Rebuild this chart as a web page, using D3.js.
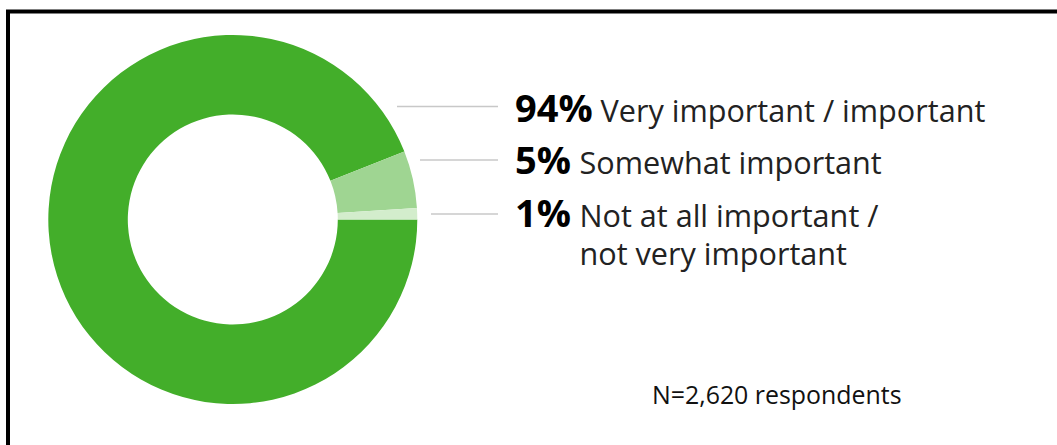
<!DOCTYPE html>
<html>
<head>
<meta charset="utf-8">
<script src="https://cdn.jsdelivr.net/npm/d3@7"></script>
<style>
  html, body { margin: 0; padding: 0; background: #fff; }
  svg { display: block; }
  text { font-family: "Open Sans", sans-serif; }
</style>
</head>
<body>
<svg id="chart" width="1057" height="445"></svg>
<script>
// Survey responses on importance
const categories = ["Very important / important", "Somewhat important", "Not at all important / not very important"];
const shares = [94, 5, 1];
const labelLines = [["Very important / important"], ["Somewhat important"], ["Not at all important /", "not very important"]];
const sliceColors = ["#43ae2a", "#9fd592", "#d3edcc"];
const footnote = "N=2,620 respondents";

const svg = d3.select("#chart");

// frame
svg.append("rect")
  .attr("x", 8).attr("y", 11.5)
  .attr("width", 1080).attr("height", 460)
  .attr("fill", "none").attr("stroke", "#000").attr("stroke-width", 4);

const cx = 232.8, cy = 219.5;
const outerR = 184.5, innerR = 105;

const pie = d3.pie().sort(null).value(d => d)
  .startAngle(Math.PI / 2).endAngle(Math.PI / 2 + 2 * Math.PI);
const arcs = pie(shares);
const arc = d3.arc().innerRadius(innerR).outerRadius(outerR);

const g = svg.append("g").attr("transform", `translate(${cx},${cy})`);
g.selectAll("path").data(arcs).join("path")
  .attr("d", arc)
  .attr("fill", (d, i) => sliceColors[i]);

// label rows
const rowY = [121.5, 174, 226.5];
const lineY = [106.5, 160, 214];
const lineX0 = [397, 420, 431];
const lineX1 = 498;

const rows = svg.append("g");
categories.forEach((c, i) => {
  rows.append("line")
    .attr("x1", lineX0[i]).attr("x2", lineX1)
    .attr("y1", lineY[i]).attr("y2", lineY[i])
    .attr("stroke", "#c8c8c8").attr("stroke-width", 1.5);

  rows.append("text")
    .attr("x", 515).attr("y", rowY[i])
    .attr("font-size", 38).attr("font-weight", 700)
    .attr("fill", "#000")
    .text(shares[i] + "%");

  const labelX = i === 0 ? 600.5 : 579.5;
  labelLines[i].forEach((t, j) => {
    rows.append("text")
      .attr("x", labelX).attr("y", rowY[i] + j * 38.5)
      .attr("font-size", 30.6).attr("fill", "#222")
      .text(t);
  });
});

svg.append("text")
  .attr("x", 652).attr("y", 404)
  .attr("font-size", 24.9).attr("fill", "#111")
  .text(footnote);
</script>
</body>
</html>
